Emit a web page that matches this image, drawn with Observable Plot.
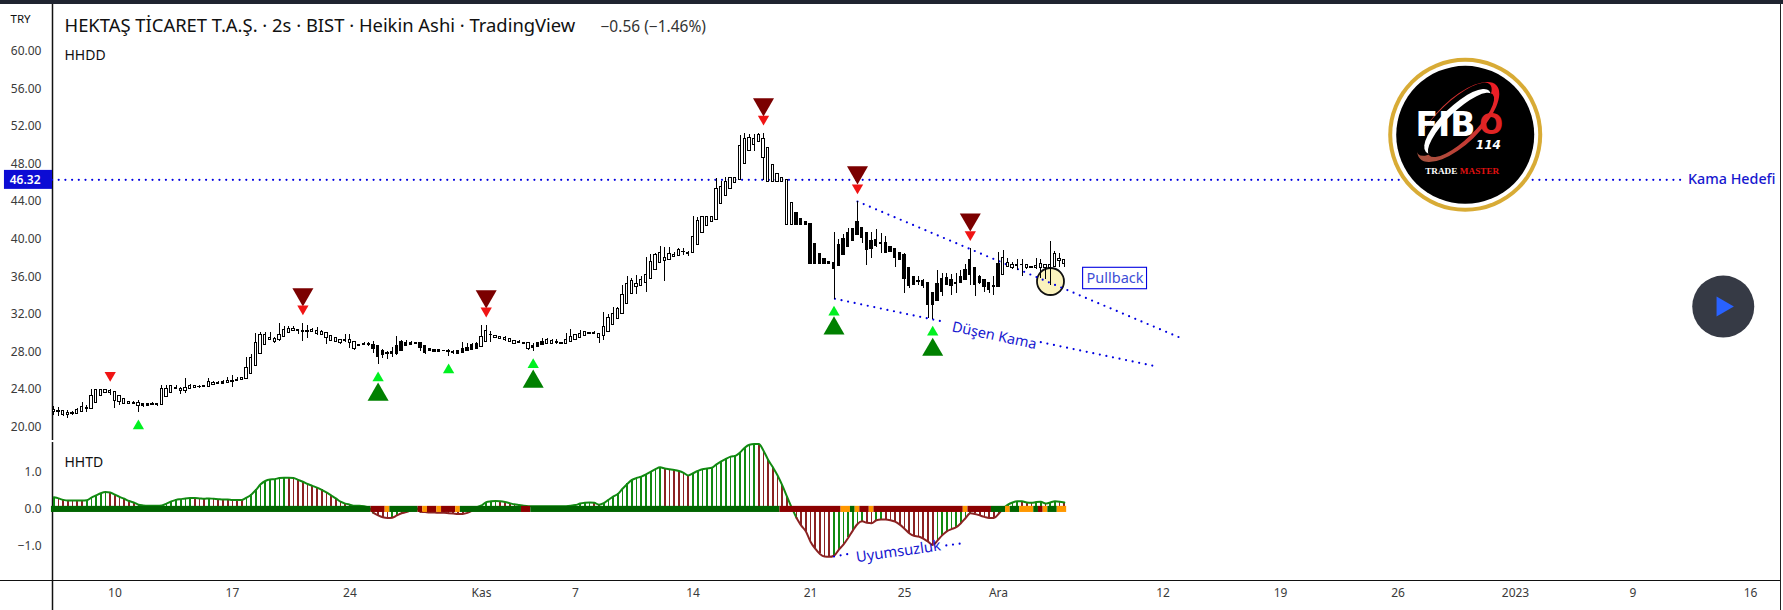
<!DOCTYPE html>
<html><head><meta charset="utf-8">
<script src="https://cdn.jsdelivr.net/npm/d3@7"></script>
<script src="https://cdn.jsdelivr.net/npm/@observablehq/plot@0.6"></script>
<style>html,body{margin:0;padding:0;background:#fff;overflow:hidden}
#chart{position:relative;width:1783px;height:610px}
#chart svg{display:block}
#topband{position:absolute;left:0;top:0;width:1783px;height:4px;background:#1f2430}</style>
</head><body><div id="chart"><div id="topband"></div></div>
<script>
const bodyTop=[21.85,21.74,21.74,21.53,21.49,21.85,22.17,22.03,23.34,23.98,
23.98,23.98,23.87,23.73,23.3,23.02,22.7,22.63,22.63,22.45,
22.42,22.52,22.42,24.08,24.08,24.37,24.22,24.12,24.15,24.44,
24.4,24.33,24.4,24.83,24.72,24.72,24.79,24.97,24.97,25.04,
25.25,26.32,27.38,28.98,29.83,29.86,29.51,29.37,29.83,30.36,
30.47,30.43,30.36,30.25,30.25,30.36,30.22,30.18,30.04,29.72,
29.51,29.3,29.33,29.3,29.08,28.8,28.83,28.87,28.8,28.69,
28.16,27.95,28.05,28.66,29.08,29.01,28.91,28.91,28.91,28.66,
28.34,28.23,28.2,28.16,28.16,28.05,28.09,28.27,28.48,28.73,
28.83,29.61,30.22,29.83,29.69,29.58,29.54,29.4,29.15,29.12,
29.01,29.01,28.69,28.91,29.08,29.23,29.15,29.05,28.98,29.3,
29.58,29.86,29.94,30.08,30.04,30.0,29.94,30.68,31.6,32.06,
32.59,34.08,35.25,35.57,35.25,35.68,36.21,37.6,38.27,38.55,
37.98,38.45,38.34,38.8,38.69,38.52,40.25,41.96,42.31,42.31,
42.38,45.36,45.57,46.11,46.5,46.46,49.93,50.68,50.79,50.68,
51.1,50.68,49.69,47.91,46.96,46.53,46.32,43.87,42.74,42.1,
41.78,41.64,39.51,38.45,37.91,37.6,37.52,39.43,40.04,40.68,
41.1,41.88,41.24,40.71,39.83,39.93,39.61,39.61,39.12,38.94,
38.55,38.34,36.95,36.03,35.57,35.57,35.39,34.33,35.25,35.78,
35.92,35.61,35.39,36.03,36.74,37.84,36.95,36.03,35.71,35.36,
35.07,37.41,38.02,37.49,37.31,37.27,37.27,37.24,37.02,37.17,
37.38,37.27,37.31,38.44,37.91,37.8];
const bodyBot=[21.57,21.67,21.25,21.25,21.39,21.39,21.6,21.96,21.92,22.6,
23.3,23.66,23.59,22.81,22.7,22.45,22.45,22.49,22.24,22.24,
22.24,22.38,22.35,22.35,23.2,23.62,24.08,23.83,23.87,24.08,
24.15,24.26,24.3,24.3,24.47,24.61,24.61,24.72,24.86,24.93,
25.04,25.15,25.64,26.53,27.81,28.76,29.3,29.08,29.3,29.58,
30.04,30.25,30.25,30.18,30.18,30.11,29.94,29.86,29.47,29.15,
29.05,29.01,29.15,28.94,28.34,28.62,28.73,28.73,28.34,27.42,
27.66,27.74,27.77,27.81,28.16,28.62,28.76,28.83,28.48,27.91,
28.13,27.98,27.98,28.09,28.02,27.88,27.84,27.88,28.09,28.2,
28.3,28.52,29.05,29.76,29.47,29.37,29.23,29.05,28.87,28.94,
28.87,28.37,28.48,28.55,28.73,28.83,28.83,28.94,28.83,28.87,
29.08,29.26,29.54,29.69,29.94,29.9,29.44,29.69,30.15,30.89,
31.53,32.06,33.13,34.19,34.94,35.04,35.36,35.79,36.74,37.45,
37.67,37.81,38.13,38.23,38.59,38.45,38.55,39.4,40.68,41.42,
41.85,42.06,43.76,44.62,45.36,46.0,46.25,48.02,49.4,50.01,
50.36,48.66,46.11,46.11,46.11,46.11,41.53,41.53,41.53,41.53,
41.53,37.35,37.35,37.35,37.35,37.35,36.78,37.1,38.27,39.15,
39.86,40.43,40.18,38.8,38.94,39.33,39.51,38.55,38.69,37.98,
37.84,35.75,35.0,35.18,35.43,35.07,33.02,32.95,33.48,34.4,
35.11,35.07,35.22,35.32,35.61,36.17,35.11,35.29,34.93,34.65,
34.93,34.9,36.17,37.02,36.95,37.17,37.24,36.92,36.92,36.92,
36.95,36.92,36.95,37.06,37.7,37.34];
const wickHigh=[22.2,22.13,21.74,21.78,21.64,22.03,22.6,22.27,23.98,23.98,
23.98,23.98,24.01,23.73,23.3,23.02,22.7,22.7,22.84,22.56,
22.56,22.6,22.56,24.47,24.47,24.4,24.4,24.26,25.15,24.55,
24.4,24.47,24.4,25.15,24.83,24.86,24.97,25.25,25.54,25.25,
25.32,27.45,27.7,29.94,30.04,30.04,30.04,29.51,31,30.71,
30.71,30.71,30.36,31,30.78,30.54,30.57,30.29,30.04,29.72,
29.51,29.3,29.83,29.86,29.08,28.8,28.98,28.98,29.15,28.69,
28.27,28.05,28.48,29.65,29.23,29.23,29.08,29.05,29.01,28.66,
28.34,28.23,28.3,28.16,28.3,28.2,28.16,28.98,28.94,28.87,
28.98,30.82,30.78,30.22,29.76,29.58,29.65,29.4,29.23,29.23,
29.01,29.01,28.94,29.05,29.44,29.44,29.33,29.3,28.98,29.97,
30.4,29.86,30.32,30.22,30.04,30.15,29.94,32.17,31.99,32.7,
32.77,35.08,36.03,35.79,36.14,36.03,38.06,38.34,38.45,39.23,
39.08,39.12,38.62,38.98,38.98,38.73,42.38,42.28,42.38,42.38,
42.38,46.5,46.18,46.53,46.53,46.53,51.03,51.21,51.14,51.1,
51.21,51.21,49.69,47.91,46.96,46.53,46.32,43.87,42.74,42.1,
41.78,41.64,39.51,38.45,37.91,37.6,40.68,39.93,40.46,41.1,
41.17,44.01,41.24,40.71,40.68,41.0,40.64,40.29,39.22,38.94,
38.55,38.44,36.95,36.03,36.03,35.68,35.39,34.33,36.67,36.31,
36.39,36.24,36.31,36.67,37.31,39.05,36.95,36.14,35.71,35.36,
36.03,38.62,38.8,37.91,37.56,37.84,37.8,37.24,37.02,37.95,
37.88,37.27,39.75,38.73,38.51,37.8];
const wickLow=[21.25,21.14,21.18,20.93,21.25,21.39,21.6,21.6,21.92,22.6,
23.3,23.66,23.37,22.03,22.31,22.45,22.45,22.45,21.6,22.13,
22.24,22.31,22.24,22.35,23.2,23.62,24.01,23.48,23.62,24.01,
24.15,24.08,24.3,24.3,24.4,24.51,24.55,24.65,24.26,24.83,
24.97,25.15,25.64,26.53,27.81,28.76,29.23,28.94,29.15,29.58,
29.97,30.18,29.9,29.15,29.47,30.04,29.79,29.79,28.8,29.08,
29.05,28.76,29.05,28.41,28.2,28.62,28.69,28.62,27.88,26.67,
27.27,27.2,27.42,27.63,28.16,28.55,28.69,28.83,28.02,27.74,
28.13,27.98,27.98,28.09,27.56,27.7,27.7,27.88,28.09,28.2,
28.3,28.52,29.05,29.05,29.4,29.37,29.15,29.05,28.76,28.91,
28.87,28.16,28.09,28.48,28.73,28.8,28.76,28.76,28.83,28.83,
29.01,29.26,29.54,29.69,29.94,29.83,28.91,29.23,30.15,30.89,
31.53,32.06,33.13,34.19,34.16,35.01,34.37,35.79,36.74,37.45,
35.54,37.81,38.09,38.2,38.23,38.2,38.55,39.4,40.68,41.42,
41.85,42.06,43.76,44.62,45.36,46.0,46.25,48.02,49.4,49.37,
50.36,46.25,46.11,46.11,46.11,46.11,41.53,41.53,41.53,41.53,
41.53,37.35,37.35,37.35,37.35,37.35,33.62,37.1,38.27,39.08,
39.86,40.43,39.51,37.24,37.91,39.15,38.51,38.48,38.58,37.02,
37.73,34.26,34.72,35.18,35.07,34.72,31.53,31.42,33.48,33.9,
35.04,33.97,34.26,35.32,35.61,35.07,33.9,35.22,34.36,34.19,
34.01,34.9,36.17,36.95,36.78,36.67,36.03,36.81,36.88,36.74,
35.78,35.68,35.07,36.95,37.02,36.95];
const solidBars=[1,4,7,17,19,20,21,22,26,31,32,35,36,38,39,52,53,54,62,65,66,67,68,69,70,71,72,73,74,75,76,77,78,79,80,81,82,83,84,85,86,87,88,89,90,99,100,102,103,104,107,108,114,115,134,135,
158,159,160,161,162,163,164,165,166,167,168,169,170,171,172,173,174,175,176,177,178,179,180,181,182,183,184,185,186,187,188,189,190,191,192,193,194,195,196,197,198,199,200,201,205,206,208];

const oscValues=[.33,.30,.26,.24,.24,.24,.24,.25,.32,.38,
.44,.47,.46,.40,.34,.29,.23,.19,.13,.11,
.10,.10,.10,.11,.16,.22,.26,.28,.30,.31,
.31,.30,.29,.30,.29,.28,.27,.27,.26,.26,
.26,.32,.40,.53,.68,.77,.81,.82,.85,.86,
.86,.85,.80,.75,.69,.64,.59,.53,.46,.38,
.30,.21,.16,.13,.10,.10,.09,.05,-.09,-.16,
-.21,-.23,-.22,-.16,-.10,-.07,-.01,.06,-.06,-.07,
-.08,-.08,-.09,-.09,-.10,-.11,-.12,-.12,-.09,-.03,
.06,.11,.20,.22,.23,.22,.20,.17,.14,.12,
.10,.09,.09,.09,.09,.09,.09,.09,.09,.09,
.10,.12,.16,.18,.19,.18,.13,.17,.26,.35,
.42,.56,.69,.80,.85,.89,.95,1.02,1.09,1.14,
1.11,1.09,1.07,1.04,.99,.92,.98,1.04,1.09,1.11,
1.13,1.22,1.30,1.37,1.43,1.45,1.54,1.67,1.75,1.77,
1.77,1.59,1.34,1.14,.92,.65,.35,.05,-.22,-.43,
-.59,-.87,-1.06,-1.20,-1.27,-1.28,-1.25,-1.09,-.95,-.77,
-.57,-.39,-.32,-.36,-.37,-.29,-.27,-.27,-.29,-.33,
-.41,-.52,-.64,-.71,-.73,-.79,-.87,-.96,-.84,-.70,
-.59,-.53,-.48,-.37,-.23,-.10,-.12,-.16,-.20,-.23,
-.23,-.12,.03,.13,.19,.22,.22,.19,.18,.20,
.21,.16,.19,.22,.21,.19];
const runFrom=[0,68,71,72,78,79,80,82,83,86,87,100,102,155,168,170,171,172,174,175,194,195,200,203,204,206,209,210,211,212,214];
const runTo  =[67,70,71,77,78,79,81,82,85,86,99,101,154,167,169,170,171,173,174,193,194,199,202,203,205,208,209,210,211,213,215];
const runState=["g","r","o","g","r","o","r","o","r","o","g","r","g","r","o","g","o","r","o","r","o","r","g","o","g","o","g","r","o","g","o"];

const priceTicks=[20,24,28,32,36,40,44,48,52,56,60];
const oscTicks=[1,0,-1];
const dateTickBars=[13,38,63,91,111,136,161,181,201,236,261,286,311,336,361];
const dateTickLabels=["10","17","24","Kas","7","14","21","25","Ara","12","19","26","2023","9","16"];

const sellBigBar=[53,92,151,171,195], sellBigPrice=[34.14,33.93,54.35,47.12,42.1];
const sellSmallBar=[12,53,92,151,171,195], sellSmallPrice=[25.54,32.6,32.38,52.79,45.47,40.5];
const buyBigBar=[69,102,166,187], buyBigPrice=[23.46,24.84,30.51,28.24];
const buySmallBar=[18,69,84,102,166,187], buySmallPrice=[20.13,25.23,26.09,26.65,32.22,30.1];

const targetPrice=46.32, targetEndBar=346.3;
const upperBar=[171,239.7], upperPrice=[44.01,29.51];
const lowerBarA=[166.2,189.9], lowerPriceA=[33.66,31.16];
const lowerBarB=[210,234], lowerPriceB=[29.05,26.53];
const divBarA=[166,169.1], divValA=[-1.27,-1.2];
const divBarB=[189.9,193], divValB=[-.97,-.92];

const xDomain=[-0.277,367.38];
const bars=bodyTop.map((_,i)=>i);
const solid=new Set(solidBars);
const font='"Noto Sans",sans-serif';
const blue="#0000e0", labelBlue="#1717cf";
const dotted={stroke:blue,strokeWidth:2.2,strokeLinecap:"round",strokeDasharray:"0 6.7"};
const tri=(bx,py,r,fill,rotate)=>Plot.dot(bx.map((b,i)=>i),{x:i=>bx[i],y:i=>py[i],symbol:"triangle",r,fill,rotate,stroke:"none"});
const logoBar=300.3, logoPrice=51.1;

function logoArcs(index,scales){
  const cx=scales.x(logoBar), cy=scales.y(logoPrice);
  const g=d3.create("svg:g").attr("transform",`translate(${cx},${cy}) translate(-6.5,-12.3) rotate(-44)`);
  const defs=g.append("defs");
  const lg=defs.append("linearGradient").attr("id","arcGrad").attr("x1",0).attr("y1",0).attr("x2",1).attr("y2",0);
  lg.append("stop").attr("offset","0%").attr("stop-color","#a6523f");
  lg.append("stop").attr("offset","100%").attr("stop-color","#ee1c25");
  g.append("ellipse").attr("rx",53).attr("ry",22).attr("fill","url(#arcGrad)");
  g.append("ellipse").attr("cx",-1).attr("cy",-5).attr("rx",50).attr("ry",16).attr("fill","#000");
  g.append("ellipse").attr("cy",-1).attr("rx",44).attr("ry",15).attr("fill","#fff");
  g.append("ellipse").attr("cy",4).attr("rx",44).attr("ry",14).attr("fill","#000");
  return g.node();
}

const priceChart=Plot.plot({
  width:1783,height:440,marginLeft:52,marginRight:3,marginTop:0,marginBottom:0,
  style:{fontFamily:font,background:"transparent",overflow:"visible"},
  x:{domain:xDomain,axis:null},
  y:{domain:[18.59,65.39],axis:null},
  marks:[
    Plot.dot([0],{x:()=>212.06,y:()=>35.5,r:13.5,fill:"#fbf3bd",stroke:"#111",strokeWidth:1.8}),
    Plot.axisY({ticks:priceTicks,tickSize:0,tickPadding:11,tickFormat:d=>d.toFixed(2),fontSize:12,color:"#3a3a3a",label:null}),
    Plot.ruleX([xDomain[0]],{stroke:"#111",strokeWidth:1.5}),
    Plot.ruleX([xDomain[1]],{stroke:"#222",strokeWidth:1}),
    Plot.ruleY([targetPrice],{x1:xDomain[0],x2:targetEndBar,...dotted}),
    Plot.line(upperBar.map((_,i)=>i),{x:i=>upperBar[i],y:i=>upperPrice[i],...dotted}),
    Plot.line(lowerBarA.map((_,i)=>i),{x:i=>lowerBarA[i],y:i=>lowerPriceA[i],...dotted}),
    Plot.line(lowerBarB.map((_,i)=>i),{x:i=>lowerBarB[i],y:i=>lowerPriceB[i],...dotted}),
    Plot.ruleX(bars,{x:i=>i,y1:i=>wickLow[i],y2:i=>wickHigh[i],stroke:"#000",strokeWidth:1,shapeRendering:"crispEdges"}),
    Plot.rect(bars,{x1:i=>i-.25,x2:i=>i+.25,y1:i=>bodyBot[i],y2:i=>bodyTop[i],fill:i=>solid.has(i)?"#000":"#fff",stroke:"#000",strokeWidth:1,shapeRendering:"crispEdges"}),
    tri(sellBigBar,sellBigPrice,7.8,"#7b0000",180),
    tri(sellSmallBar,sellSmallPrice,4.2,"#f01414",180),
    tri(buyBigBar,buyBigPrice,7.8,"#008000",0),
    tri(buySmallBar,buySmallPrice,4.2,"#00f020",0),
    Plot.rect([0],{x1:()=>-10.5,x2:()=>xDomain[0],y1:()=>45.3,y2:()=>47.32,fill:"#0c0cd4"}),
    Plot.text(["46.32"],{x:()=>-6.1,y:()=>targetPrice,text:d=>d,fill:"#fff",fontSize:12,fontWeight:600}),
    Plot.text(["Kama Hedefi"],{x:()=>347.7,y:()=>targetPrice,text:d=>d,fill:labelBlue,fontSize:14.3,fontWeight:500,textAnchor:"start"}),
    Plot.text(["Düşen Kama"],{x:()=>200.1,y:()=>29.75,text:d=>d,fill:labelBlue,fontSize:14.5,rotate:12}),
    Plot.rect([0],{x1:()=>219,x2:()=>232.6,y1:()=>34.68,y2:()=>36.96,fill:"#fff",stroke:blue,strokeWidth:1.1}),
    Plot.text(["Pullback"],{x:()=>225.8,y:()=>35.82,text:d=>d,fill:"#3d4dd6",fontSize:14.5}),
    Plot.text(["TRY"],{frameAnchor:"top-left",dx:-42,dy:14,text:d=>d,fontSize:11.5,fill:"#111",textAnchor:"start"}),
    Plot.text(["HEKTAŞ TİCARET T.A.Ş. · 2s · BIST · Heikin Ashi · TradingView"],{frameAnchor:"top-left",dx:12,dy:18,text:d=>d,fontSize:18.4,fill:"#111"}),
    Plot.text(["−0.56 (−1.46%)"],{frameAnchor:"top-left",dx:548,dy:20,text:d=>d,fontSize:15.5,fill:"#333"}),
    Plot.text(["HHDD"],{frameAnchor:"top-left",dx:12,dy:50,text:d=>d,fontSize:14,fill:"#111"}),
    Plot.dot([0],{x:()=>logoBar,y:()=>logoPrice,r:77,fill:"#d8ab35"}),
    Plot.dot([0],{x:()=>logoBar,y:()=>logoPrice,r:73,fill:"#fff"}),
    Plot.dot([0],{x:()=>logoBar,y:()=>logoPrice,r:69,fill:"#000"}),
    logoArcs,
    Plot.text(["FIB"],{x:()=>logoBar-4.2,y:()=>logoPrice+1.03,text:d=>d,fill:"#fff",fontFamily:'"DejaVu Sans"',fontWeight:800,fontSize:33}),
    Plot.text(["O"],{x:()=>logoBar+5.5,y:()=>logoPrice+1.03,text:d=>d,fill:"#e02424",fontFamily:'"DejaVu Sans"',fontWeight:800,fontSize:28}),
    Plot.text(["114"],{x:()=>logoBar+4.93,y:()=>logoPrice-1.06,text:d=>d,fill:"#fff",fontFamily:'"DejaVu Sans"',fontWeight:800,fontStyle:"italic",fontSize:12}),
    Plot.text(["TRADE"],{x:()=>logoBar-5.1,y:()=>logoPrice-3.87,text:d=>d,fill:"#fff",fontFamily:'"Liberation Serif"',fontWeight:700,fontSize:9.2}),
    Plot.text(["MASTER"],{x:()=>logoBar+3.04,y:()=>logoPrice-3.87,text:d=>d,fill:"#e01010",fontFamily:'"Liberation Serif"',fontWeight:700,fontSize:9.2}),
    Plot.dot([0],{x:()=>355.2,y:()=>32.84,r:31,fill:"#363a45"}),
    Plot.dot([0],{x:()=>355,y:()=>32.84,symbol:"triangle",r:7.42,fill:"#2962ff",rotate:90})
  ]
});

const oscGreen="#118a11", oscBrown="#8b2222";
const stateColor={g:"#006400",r:"#8b0000",o:"#ff9800"};
const oscChart=Plot.plot({
  width:1783,height:170,marginLeft:52,marginRight:3,marginTop:0,marginBottom:30,
  style:{fontFamily:font,background:"transparent",overflow:"visible"},
  x:{domain:xDomain,axis:null},
  y:{domain:[-1.919,1.865],axis:null},
  marks:[
    Plot.axisY({ticks:oscTicks,tickSize:0,tickPadding:11,tickFormat:d=>d===0?"0.0":(d<0?"−":"")+Math.abs(d).toFixed(1),fontSize:12,color:"#3a3a3a",label:null}),
    Plot.axisX({ticks:dateTickBars,tickSize:0,tickPadding:8,tickFormat:d=>dateTickLabels[dateTickBars.indexOf(d)],fontSize:12,color:"#3a3a3a",label:null}),
    Plot.ruleX([xDomain[0]],{y1:1.81,y2:-2.73,stroke:"#111",strokeWidth:1.5}),
    Plot.ruleX([xDomain[1]],{y1:1.865,y2:-2.73,stroke:"#222",strokeWidth:1}),
    Plot.ruleY([-1.919],{x1:-11.4,x2:xDomain[1],stroke:"#111",strokeWidth:1.2}),
    Plot.ruleX(bars,{x:i=>i,y1:()=>0,y2:i=>oscValues[i],stroke:i=>i===0||oscValues[i]>oscValues[i-1]?oscGreen:oscBrown,strokeWidth:1.7,shapeRendering:"crispEdges"}),
    Plot.line(bars,{x:i=>i,y:i=>oscValues[i],z:null,stroke:i=>oscValues[i]>=0?oscGreen:oscBrown,strokeWidth:2,curve:"monotone-x"}),
    Plot.rect(runFrom.map((_,k)=>k),{x1:k=>runFrom[k]-.5,x2:k=>runTo[k]+.5,y1:()=>-.08,y2:()=>.085,fill:k=>stateColor[runState[k]]}),
    Plot.line(divBarA.map((_,i)=>i),{x:i=>divBarA[i],y:i=>divValA[i],...dotted}),
    Plot.line(divBarB.map((_,i)=>i),{x:i=>divBarB[i],y:i=>divValB[i],...dotted}),
    Plot.text(["Uyumsuzluk"],{x:()=>179.7,y:()=>-1.135,text:d=>d,fill:labelBlue,fontSize:14.8,rotate:-8}),
    Plot.text(["HHTD"],{frameAnchor:"top-left",dx:12,dy:17,text:d=>d,fontSize:14,fill:"#111"})
  ]
});
const host=document.getElementById("chart");
host.appendChild(priceChart);host.appendChild(oscChart);
</script></body></html>
